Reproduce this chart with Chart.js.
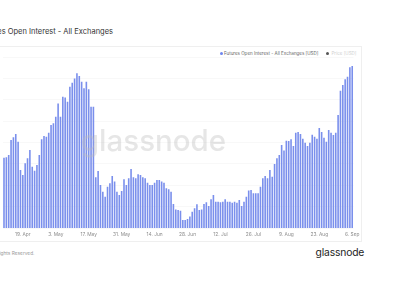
<!DOCTYPE html>
<html>
<head>
<meta charset="utf-8">
<script src="https://cdn.jsdelivr.net/npm/chart.js@4"></script>
<style>
  html, body { margin: 0; padding: 0; background: #fff; overflow: hidden; }
  body { width: 400px; height: 300px; position: relative; font-family: Inter, "Noto Sans", sans-serif; }
  #panel { position: absolute; left: -2px; top: 46px; width: 364px; height: 196px; border: 1px solid #efefef; box-sizing: border-box; }
  #title { position: absolute; right: 287px; top: 27px; font-size: 7.5px; color: #333; white-space: nowrap; }
  .lg { position: absolute; top: 51px; font-size: 4.5px; white-space: nowrap; line-height: 5px; }
  .dot { position: absolute; top: 51.8px; width: 3.2px; height: 3.2px; border-radius: 50%; }
  #copy { position: absolute; right: 365.5px; top: 249.5px; font-size: 4.8px; color: #9b9b9b; white-space: nowrap; }
  #logo { position: absolute; left: 315.5px; top: 246px; font-size: 10.3px; font-weight: 400; color: #1d1d1d; letter-spacing: -0.15px; }
  canvas { position: absolute; left: 0; top: 0; }
</style>
</head>
<body>
<div id="panel"></div>
<div id="title">Futures Open Interest - All Exchanges</div>
<div class="dot" style="left:219.5px;background:#6f86ee"></div>
<div class="lg" style="left:224px;color:#666">Futures Open Interest - All Exchanges [USD]</div>
<div class="dot" style="left:326px;background:#555"></div>
<div class="lg" style="left:331.5px;color:#d0d0d0">Price [USD]</div>
<div id="copy">© 2021 Glassnode. All Rights Reserved.</div>
<div id="logo">glassnode</div>
<canvas id="oiChart" width="400" height="300"></canvas>
<script>
// daily futures open interest (USD bn), 11 Apr - 6 Sep 2021
var startDate = new Date(2021, 3, 11);
var openInterest = [
  7.29, 7.31, 7.42, 8.12, 8.24, 8.40, 8.04, 6.71, 6.48, 7.03,
  7.26, 7.65, 6.87, 6.68, 6.95, 7.42, 8.15, 8.30, 8.27, 8.46,
  8.82, 8.90, 9.21, 9.83, 9.21, 10.14, 10.10, 9.91, 10.61, 10.80,
  11.00, 11.24, 11.11, 10.84, 10.54, 10.84, 10.49, 9.67, 9.67, 6.37,
  6.67, 6.01, 5.70, 5.46, 5.93, 6.09, 6.43, 6.17, 5.70, 5.54,
  5.73, 6.28, 6.01, 6.33, 6.76, 6.37, 6.33, 6.51, 6.48, 6.37,
  6.33, 6.12, 6.01, 6.01, 6.12, 6.25, 6.25, 6.17, 6.12, 5.86,
  5.81, 5.70, 5.12, 4.87, 4.84, 4.81, 4.37, 4.37, 4.42, 4.54,
  4.76, 4.92, 5.11, 4.84, 4.87, 5.12, 5.20, 5.03, 5.34, 5.54,
  5.23, 5.23, 5.20, 5.23, 5.34, 5.23, 5.23, 5.18, 5.23, 5.18,
  5.31, 5.03, 5.23, 5.46, 5.75, 5.78, 5.62, 5.62, 5.62, 5.93,
  6.33, 6.43, 6.33, 6.71, 6.40, 6.99, 7.26, 7.42, 7.88, 7.62,
  8.08, 8.07, 8.15, 7.84, 8.46, 8.49, 8.40, 8.18, 7.99, 7.84,
  7.99, 8.36, 8.27, 8.18, 8.68, 8.49, 8.22, 8.04, 8.58, 8.46,
  8.35, 8.46, 9.29, 10.42, 10.69, 10.96, 11.08, 11.52, 11.58
];
var tickLabels = ['19. Apr', '3. May', '17. May', '31. May', '14. Jun', '28. Jun',
                  '12. Jul', '26. Jul', '9. Aug', '23. Aug', '6. Sep'];
var months = ['Jan', 'Feb', 'Mar', 'Apr', 'May', 'Jun', 'Jul', 'Aug', 'Sep', 'Oct', 'Nov', 'Dec'];

var dates = [];
for (var i = 0; i < openInterest.length; i++) {
    var d = new Date(startDate.getFullYear(), startDate.getMonth(), startDate.getDate() + i);
    dates.push(d.getDate() + '. ' + months[d.getMonth()]);
}

// faint logo laid over the bars
var watermark = {
    id: 'watermark',
    afterDatasetsDraw: function(chart) {
        var c = chart.ctx;
        c.save();
        c.font = '500 29.5px Inter, sans-serif';
        c.fillStyle = 'rgba(185,185,185,0.36)';
        c.textAlign = 'center';
        c.textBaseline = 'alphabetic';
        c.fillText('glassnode', 153.5, 151);
        c.restore();
    }
};

var ctx = document.getElementById('oiChart').getContext('2d');
var oiChart = new Chart(ctx, {
    type: 'bar',
    data: {
        labels: dates,
        datasets: [{
            label: 'Futures Open Interest - All Exchanges [USD]',
            data: openInterest,
            backgroundColor: '#7a8fec',
            borderWidth: 0,
            categoryPercentage: 1,
            barPercentage: 0.68
        }]
    },
    options: {
        responsive: false,
        animation: false,
        layout: { padding: { left: 0, right: 46.6, top: 57, bottom: 0 } },
        plugins: {
            legend: { display: false },
            tooltip: { enabled: false }
        },
        scales: {
            x: {
                grid: { display: false, drawTicks: false, tickLength: 0 },
                border: { display: false },
                ticks: {
                    autoSkip: false,
                    maxRotation: 0,
                    padding: 4,
                    color: '#8c8c8c',
                    font: { family: 'Inter', size: 4.8 },
                    callback: function(val, idx) {
                        return tickLabels.indexOf(dates[idx]) >= 0 ? dates[idx] : '';
                    }
                },
                afterFit: function(scale) { scale.height = 72; }
            },
            y: {
                min: 4,
                max: 12,
                ticks: { display: false, stepSize: 1 },
                grid: { color: '#f8f8f8', drawTicks: false },
                border: { display: false },
                afterFit: function(scale) { scale.width = 0; }
            }
        }
    },
    plugins: [watermark]
});
</script>
</body>
</html>
